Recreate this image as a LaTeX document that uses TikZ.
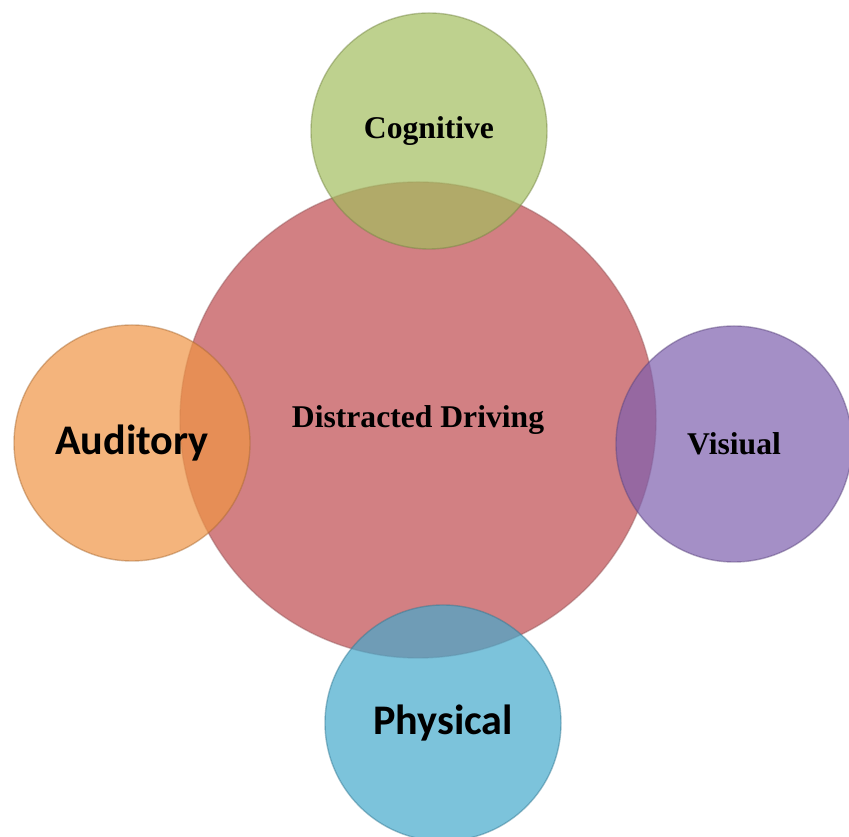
\documentclass[tikz,border=0pt]{standalone}
\usepackage{fontspec}
\setmainfont{Liberation Serif}
\newfontfamily\carlito{Carlito}
\definecolor{drivered}{RGB}{210,128,131}
\definecolor{coggreen}{RGB}{163,189,94}
\definecolor{audorange}{RGB}{239,148,68}
\definecolor{vispurple}{RGB}{125,95,174}
\definecolor{physblue}{RGB}{69,169,204}

\begin{document}
\begin{tikzpicture}
        \tikzstyle{every node}=[circle, inner sep=0pt, line width=0.8pt, draw opacity=0.45, text opacity=1]
        \tikzstyle{sat}=[minimum size=47.2mm, fill opacity=0.7]
        \tikzstyle{serif}=[font=\fontsize{18}{20}\selectfont\bfseries]
        \tikzstyle{sans}=[font=\fontsize{24}{26}\selectfont\carlito\bfseries]
        \useasboundingbox (0,0) rectangle (16.98,16.72);
        % centre
        \node [fill=drivered, draw=drivered!70!black, minimum size=95.2mm, serif] (driving) at (8.36,8.32) {Distracted Driving};
        % the four kinds
        \node [sat, fill=coggreen, draw=coggreen!70!black, serif] (cognitive) at (8.58,14.10) {Cognitive};
        \node [sat, fill=audorange, draw=audorange!70!black, sans] (auditory) at (2.64,7.86) {Auditory};
        \node [sat, fill=vispurple, draw=vispurple!70!black, serif] (visiual) at (14.68,7.84) {Visiual};
        \node [sat, fill=physblue, draw=physblue!70!black, sans] (physical) at (8.86,2.26) {Physical};
\end{tikzpicture}
\end{document}
